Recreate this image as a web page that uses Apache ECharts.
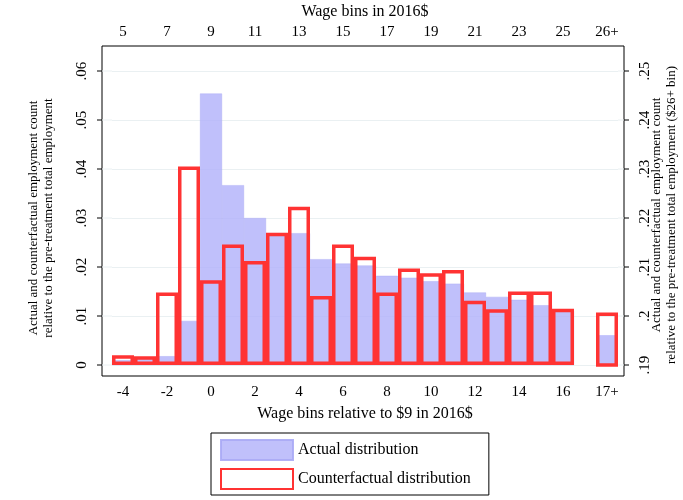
<!DOCTYPE html>
<html>
<head>
<meta charset="utf-8">
<script src="https://cdn.jsdelivr.net/npm/echarts@6/dist/echarts.min.js"></script>
<style>body{margin:0;background:#fff}#c{width:683px;height:500px}</style>
</head>
<body>
<div id="c"></div>
<script>
// wage bins relative to $9, and the matching 2016$ labels on top
var bins = ['-4','-3','-2','-1','0','1','2','3','4','5','6','7','8','9','10','11','12','13','14','15','16','17','17+']
var topBins = ['5','6','7','8','9','10','11','12','13','14','15','16','17','18','19','20','21','22','23','24','25','26','26+']
var actual = [0.001,0.0012,0.0018,0.009,0.0554,0.0367,0.030,0.0269,0.0269,0.0216,0.0207,0.0203,0.0182,0.0178,0.0171,0.0166,0.0148,0.0139,0.0133,0.0122,0.011,null,null]
var counterfactual = [0.002,0.0018,0.0148,0.0405,0.0173,0.0246,0.0212,0.027,0.0323,0.0141,0.0246,0.0221,0.0148,0.0197,0.0187,0.0194,0.0131,0.0114,0.015,0.015,0.0115,null,null]
// $26+ bin, read on the right axis
var actualTop = [null,null,null,null,null,null,null,null,null,null,null,null,null,null,null,null,null,null,null,null,null,null,0.1961]
var counterTop = [null,null,null,null,null,null,null,null,null,null,null,null,null,null,null,null,null,null,null,null,null,null,0.2007]

var font = 'Liberation Serif'
var blue = 'rgba(176,176,250,0.8)'
var red = '#ff3333'
function fmt(v) {
    if (v === 0) return '0'
    return String(+v.toFixed(2)).replace(/^0/, '')
}
var L = 102, R = 624, T = 46, B = 376

// frame, outer ticks, and the bits of grid line in the padding
var frame = [{ type: 'polyline', shape: { points: [[L, T], [L, B], [R, B], [R, T], [L, T]] }, style: { stroke: '#000', fill: null, lineWidth: 1 } }]
for (var i = 0; i < 7; i++) {
    var y = 365 - i * 49
    frame.push({ type: 'line', shape: { x1: L - 5, y1: y, x2: L, y2: y }, style: { stroke: '#000' } })
    frame.push({ type: 'line', shape: { x1: R, y1: y, x2: R + 5, y2: y }, style: { stroke: '#000' } })
    frame.push({ type: 'line', shape: { x1: L, y1: y, x2: 112, y2: y }, style: { stroke: '#eaf0f2' } })
    frame.push({ type: 'line', shape: { x1: 618, y1: y, x2: R, y2: y }, style: { stroke: '#eaf0f2' } })
}
// right axis title
frame.push({
    type: 'text', x: 664, y: 215, rotation: Math.PI / 2,
    style: {
        text: 'Actual and counterfactual employment count\nrelative to the pre-treatment total employment ($26+ bin)',
        font: '13px "Liberation Serif"', fill: '#000', align: 'center', verticalAlign: 'middle', lineHeight: 15
    }
})

var chart = echarts.init(document.getElementById('c'))
var option = {
    animation: false,
    textStyle: { fontFamily: font, color: '#000' },
    grid: { left: 112, right: 65, top: 71, bottom: 135, outerBoundsMode: 'none', containLabel: false },
    legend: {
        orient: 'vertical', left: 211, top: 433,
        itemWidth: 72, itemHeight: 20, itemGap: 7, icon: 'rect',
        borderColor: '#000', borderWidth: 1, padding: [6, 18, 5, 9],
        textStyle: { fontFamily: font, fontSize: 16, color: '#000' },
        data: ['Actual distribution', 'Counterfactual distribution']
    },
    xAxis: [{
        type: 'category', data: bins, position: 'bottom', offset: 11,
        name: 'Wage bins relative to $9 in 2016$', nameLocation: 'middle', nameGap: 30,
        nameTextStyle: { fontFamily: font, fontSize: 16, color: '#000' },
        axisLine: { show: false },
        axisTick: { interval: 1, alignWithLabel: true, length: 5, lineStyle: { color: '#000' } },
        axisLabel: { interval: 1, fontFamily: font, fontSize: 15, color: '#000', margin: 9 }
    }, {
        type: 'category', data: topBins, position: 'top', offset: 25,
        name: 'Wage bins in 2016$', nameLocation: 'middle', nameGap: 8,
        nameTextStyle: { fontFamily: font, fontSize: 16, color: '#000' },
        axisLine: { show: false },
        axisTick: { interval: 1, alignWithLabel: true, length: 5, lineStyle: { color: '#000' } },
        axisLabel: { interval: 1, fontFamily: font, fontSize: 15, color: '#000', margin: 6 }
    }],
    yAxis: [{
        type: 'value', min: 0, max: 0.06, interval: 0.01,
        name: 'Actual and counterfactual employment count\nrelative to the pre-treatment total employment',
        nameLocation: 'middle', nameGap: 56, nameRotate: 90,
        nameTextStyle: { fontFamily: font, fontSize: 13, color: '#000', lineHeight: 15 },
        axisLine: { show: false },
        axisTick: { show: false },
        axisLabel: { rotate: 90, fontFamily: font, fontSize: 15, color: '#000', formatter: fmt, margin: 22 },
        splitLine: { lineStyle: { color: '#eaf0f2' } }
    }, {
        type: 'value', min: 0.19, max: 0.25, interval: 0.01,
        axisLine: { show: false },
        axisTick: { show: false },
        axisLabel: { rotate: 90, fontFamily: font, fontSize: 15, color: '#000', formatter: fmt, margin: 20 },
        splitLine: { show: false }
    }],
    graphic: frame,
    series: [{
        name: 'Actual distribution', type: 'bar', data: actual,
        barCategoryGap: 0, barGap: '-100%',
        itemStyle: { color: blue, borderColor: 'rgba(170,170,245,0.9)', borderWidth: 0.5 }
    }, {
        name: 'Actual distribution', type: 'bar', data: actualTop, yAxisIndex: 1,
        barCategoryGap: 0, barGap: '-100%',
        itemStyle: { color: blue }
    }, {
        name: 'Counterfactual distribution', type: 'bar', data: counterfactual,
        barCategoryGap: 0, barGap: '-100%',
        itemStyle: { color: 'rgba(0,0,0,0)', borderColor: red, borderWidth: 3.5 }
    }, {
        name: 'Counterfactual distribution', type: 'bar', data: counterTop, yAxisIndex: 1,
        barCategoryGap: 0, barGap: '-100%',
        itemStyle: { color: 'rgba(0,0,0,0)', borderColor: red, borderWidth: 3.5 }
    }]
}
chart.setOption(option)
</script>
</body>
</html>
